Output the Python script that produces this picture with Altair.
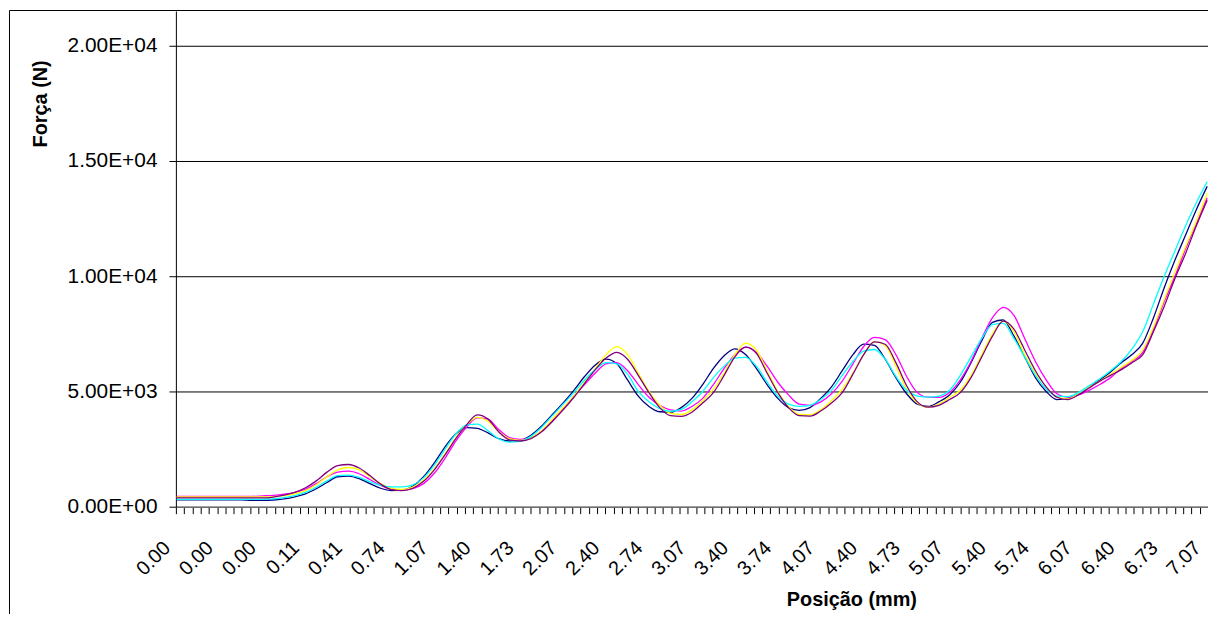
import json
import altair as alt
import pandas as pd

# ---------------- data ----------------
x_labels = ["0.00", "0.00", "0.00", "0.11", "0.41", "0.74", "1.07", "1.40", "1.73",
            "2.07", "2.40", "2.74", "3.07", "3.40", "3.74", "4.07", "4.40", "4.73",
            "5.07", "5.40", "5.74", "6.07", "6.40", "6.73", "7.07"]
y_tick_values = [0, 5000, 10000, 15000, 20000]
y_tick_labels = ["0.00E+00", "5.00E+03", "1.00E+04", "1.50E+04", "2.00E+04"]

CATS_PER_LABEL = 26   # categories between two labels
CATS_PER_TICK = 5     # categories between two tick marks
N_CATS = 625
STEP = 0.25           # sample spacing of the series, in label units

navy = [300, 300, 300, 300,
        300, 300, 300, 280,
        280, 290, 340, 430,
        560, 780, 1050, 1300,
        1330, 1220, 1000, 800,
        700, 720, 900, 1300,
        1900, 2600, 3150, 3430,
        3400, 3200, 2950, 2850,
        2880, 3100, 3500, 4000,
        4500, 5050, 5650, 6150,
        6400, 6200, 5500, 4800,
        4350, 4120, 4100, 4300,
        4700, 5300, 6000, 6550,
        6850, 6600, 6000, 5300,
        4700, 4300, 4180, 4300,
        4700, 5200, 5900, 6600,
        7050, 7000, 6400, 5600,
        4900, 4450, 4350, 4550,
        4850, 5400, 6250, 7200,
        8000, 8100, 7400, 6500,
        5600, 5000, 4650, 4700,
        4900, 5200, 5500, 5850,
        6250, 6600, 7100, 8200,
        9500, 10700, 11800, 12900,
        13900]

magenta = [450, 450, 450, 450,
           450, 450, 450, 450,
           470, 490, 540, 620,
           760, 1000, 1300, 1500,
           1540, 1430, 1180, 920,
           760, 720, 780, 1000,
           1450, 2100, 2850, 3450,
           3850, 3800, 3350, 3000,
           2920, 3000, 3300, 3750,
           4250, 4800, 5300, 5800,
           6200, 6250, 5900, 5300,
           4750, 4400, 4200, 4150,
           4350, 4700, 5300, 6000,
           6600, 6920, 6700, 6100,
           5400, 4850, 4450, 4400,
           4550, 4900, 5450, 6200,
           6950, 7350, 7250, 6600,
           5650, 4950, 4750, 4740,
           4950, 5500, 6300, 7300,
           8200, 8650, 8300, 7300,
           6300, 5500, 4900, 4750,
           4850, 5050, 5300, 5600,
           6000, 6300, 6700, 7700,
           8900, 10000, 11200, 12300,
           13400]

yellow = [420, 420, 420, 420,
          420, 420, 420, 420,
          420, 440, 480, 560,
          700, 950, 1300, 1600,
          1700, 1600, 1300, 1000,
          800, 750, 850, 1150,
          1650, 2300, 3000, 3550,
          3880, 3700, 3250, 2950,
          2880, 3000, 3300, 3800,
          4300, 4800, 5400, 6000,
          6600, 6950, 6600, 5800,
          5000, 4400, 4050, 4000,
          4200, 4600, 5100, 5800,
          6600, 7100, 6800, 5900,
          5000, 4350, 4000, 3980,
          4200, 4600, 5100, 5800,
          6600, 7150, 7000, 6100,
          5100, 4500, 4320, 4450,
          4750, 5050, 5700, 6600,
          7500, 8050, 7600, 6600,
          5800, 5200, 4750, 4680,
          4900, 5200, 5450, 5750,
          6050, 6350, 6800, 7800,
          9000, 10200, 11300, 12400,
          13600]

cyan = [320, 320, 320, 320,
        320, 320, 320, 320,
        320, 340, 390, 480,
        620, 850, 1120, 1350,
        1370, 1270, 1080, 920,
        860, 860, 950, 1250,
        1800, 2500, 3150, 3550,
        3580, 3300, 2950, 2800,
        2830, 3050, 3450, 3950,
        4450, 4950, 5500, 5950,
        6250, 6200, 5750, 5000,
        4550, 4250, 4140, 4220,
        4550, 5000, 5600, 6100,
        6450, 6480, 6100, 5400,
        4800, 4450, 4350, 4400,
        4650, 5050, 5700, 6300,
        6750, 6820, 6400, 5650,
        5050, 4800, 4750, 4800,
        5050, 5700, 6500, 7300,
        7900, 7950, 7300, 6500,
        5700, 5100, 4800, 4780,
        4950, 5250, 5550, 5900,
        6300, 6850, 7600, 8800,
        10000, 11100, 12200, 13200,
        14100]

purple = [380, 380, 380, 380,
          380, 380, 380, 380,
          380, 420, 500, 620,
          820, 1120, 1500, 1780,
          1830, 1680, 1350, 980,
          740, 700, 800, 1100,
          1600, 2250, 2950, 3550,
          3980, 3800, 3250, 2900,
          2850, 2950, 3250, 3700,
          4200, 4750, 5350, 5950,
          6450, 6700, 6400, 5700,
          4950, 4300, 3950, 3920,
          4100, 4500, 4950, 5700,
          6500, 6920, 6650, 5800,
          4950, 4300, 3950, 3930,
          4150, 4500, 4950, 5750,
          6600, 7150, 7050, 6250,
          5250, 4550, 4320, 4400,
          4650, 4950, 5600, 6500,
          7400, 8050, 7700, 6800,
          5900, 5200, 4750, 4650,
          4850, 5150, 5450, 5700,
          5950, 6250, 6600, 7600,
          8700, 9900, 11000, 12200,
          13300]

series = [
    (navy, "#000080"),
    (magenta, "#FF00FF"),
    (yellow, "#FFFF00"),
    (cyan, "#00FFFF"),
    (purple, "#800080"),
]

# ---------------- layout ----------------
FONT = "Liberation Sans"
PLOT_W, PLOT_H = 1039, 499
Y_MAX = 20000 * PLOT_H / 464.0

x_domain = [(0 - 0.5) / CATS_PER_LABEL, (N_CATS - 0.5) / CATS_PER_LABEL]
tick_positions = [(b - 0.5) / CATS_PER_LABEL for b in range(0, N_CATS, CATS_PER_TICK)]
label_positions = list(range(len(x_labels)))
x_axis_values = sorted(set(tick_positions + label_positions))

is_label = "abs(datum.value - round(datum.value)) < 0.005"
x_label_expr = f"{is_label} ? {json.dumps(x_labels)}[round(datum.value)] : ''"
y_label_expr = f"{json.dumps(y_tick_labels)}[round(datum.value / 5000)]"

x_scale = alt.Scale(domain=x_domain, nice=False, zero=False)
y_scale = alt.Scale(domain=[0, Y_MAX], nice=False)

x_axis = alt.Axis(
    values=x_axis_values,
    labelExpr=x_label_expr,
    labelAngle=315,
    labelAlign="right",
    labelBaseline="middle",
    labelOffset=-10,
    labelOverlap=False,
    labelFlush=False,
    labelFont=FONT,
    labelFontSize=20,
    labelColor="black",
    labelPadding=31,
    tickSize=7,
    tickColor="black",
    tickOpacity={"condition": {"test": is_label, "value": 0}, "value": 1},
    domainColor="#808080",
    grid=False,
    title="Posição (mm)",
    titleFont=FONT,
    titleFontSize=20,
    titleFontWeight="bold",
    titleColor="black",
    titleX=680,
    titleY=93,
    titleAlign="center",
    titleBaseline="middle",
)

y_axis = alt.Axis(
    values=y_tick_values,
    labelExpr=y_label_expr,
    labelFont=FONT,
    labelFontSize=21,
    labelColor="black",
    labelPadding=12,
    tickSize=7,
    tickColor="black",
    domainColor="black",
    grid=True,
    gridColor="black",
    gridOpacity=1,
    gridWidth=1,
    title="Força (N)",
    titleFont=FONT,
    titleFontSize=20,
    titleFontWeight="bold",
    titleColor="black",
    titleAngle=270,
    titleX=-136,
    titleY=93,
    titleAlign="center",
    titleBaseline="middle",
)

border = alt.Chart(pd.DataFrame({"d": [0]})).mark_rect(
    fillOpacity=0, stroke="black", strokeWidth=1
).encode(
    x=alt.value(-167.5), x2=alt.value(1300),
    y=alt.value(-0.5), y2=alt.value(900),
)

layers = [border]
for vals, color in series:
    df = pd.DataFrame({"k": [i * STEP for i in range(len(vals))], "force": vals})
    layers.append(
        alt.Chart(df).mark_line(color=color, strokeWidth=1.3, interpolate="monotone", clip=True)
        .encode(
            x=alt.X("k:Q", scale=x_scale, axis=x_axis),
            y=alt.Y("force:Q", scale=y_scale, axis=y_axis),
        )
    )

chart = alt.layer(*layers).properties(
    width=PLOT_W,
    height=PLOT_H,
    padding={"left": 169, "top": 1, "right": 0, "bottom": 106},
    autosize=alt.AutoSizeParams(type="none"),
    background="white",
).configure_view(stroke=None)

chart.save("out.html", embed_options={"renderer": "svg", "actions": False})
